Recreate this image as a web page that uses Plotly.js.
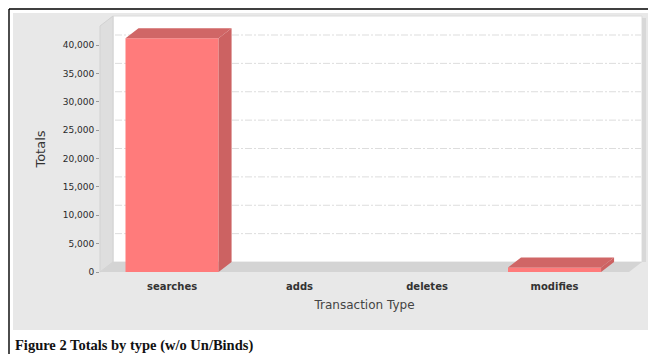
<!DOCTYPE html>
<html>
<head>
<meta charset="utf-8">
<script src="https://cdn.plot.ly/plotly-3.0.1.min.js"></script>
<style>
  html, body { margin: 0; padding: 0; background: #ffffff; }
  #chart { width: 648px; height: 354px; }
</style>
</head>
<body>
<div id="chart"></div>
<script>
// Transaction totals by type (without Un/Binds)
const categories = ['searches', 'adds', 'deletes', 'modifies'];
const totals = [41200, 0, 0, 800];
const yTickVals = [0, 5000, 10000, 15000, 20000, 25000, 30000, 35000, 40000];
const yTickText = ['0', '5,000', '10,000', '15,000', '20,000', '25,000', '30,000', '35,000', '40,000'];
const xTitle = 'Transaction Type';
const yTitle = 'Totals';
const caption = 'Figure 2 Totals by type (w/o Un/Binds)';

// ---- figure geometry (pixels) ----
const W = 648, H = 354;
const M = { l: 100, r: 6, t: 16, b: 82 };
const PW = W - M.l - M.r;   // plotting width
const PH = H - M.t - M.b;   // plotting height
const DEPTH_X = 13, DEPTH_Y = 10;   // 3-D depth offset of the back wall
const Y_MAX = 43350;
const X_RANGE = [-0.565, 3.584];
const BAR_W = 0.73;

// pixel -> paper coordinates
const px = x => (x - M.l) / PW;
const py = y => (H - M.b - y) / PH;

const frontDomX = [0, (PW - DEPTH_X) / PW];
const frontDomY = [0, (PH - DEPTH_Y) / PH];
const backDomX = [DEPTH_X / PW, 1];
const backDomY = [DEPTH_Y / PH, 1];

// depth offset expressed in front-axis data units
const frontPxW = PW - DEPTH_X, frontPxH = PH - DEPTH_Y;
const dX = DEPTH_X * (X_RANGE[1] - X_RANGE[0]) / frontPxW;
const dY = DEPTH_Y * Y_MAX / frontPxH;

const idx = categories.map((_, i) => i);

// side and top faces of each box, built from the totals
const sideX = [], sideY = [], topX = [], topY = [];
totals.forEach((v, i) => {
  if (v <= 0) return;
  const l = i - BAR_W / 2, r = i + BAR_W / 2;
  sideX.push(r, r + dX, r + dX, r, r, null);
  sideY.push(0, dY, v + dY, v, 0, null);
  topX.push(l, l + dX, r + dX, r, l, null);
  topY.push(v, v + dY, v + dY, v, v, null);
});

const traces = [
  {
    type: 'bar', x: idx, y: totals, width: BAR_W,
    xaxis: 'x2', yaxis: 'y2',
    marker: { color: '#ff7b7b', line: { width: 0 } },
    hoverinfo: 'skip'
  },
  {
    type: 'scatter', mode: 'lines', x: sideX, y: sideY,
    xaxis: 'x2', yaxis: 'y2', fill: 'toself', fillcolor: '#cc6262',
    line: { width: 0, color: 'rgba(0,0,0,0)' }, hoverinfo: 'skip'
  },
  {
    type: 'scatter', mode: 'lines', x: topX, y: topY,
    xaxis: 'x2', yaxis: 'y2', fill: 'toself', fillcolor: '#d06666',
    line: { width: 0, color: 'rgba(0,0,0,0)' }, hoverinfo: 'skip'
  }
];

const poly = pts => 'M' + pts.map(p => px(p[0]) + ',' + py(p[1])).join('L') + 'Z';
const fb = { left: M.l, right: M.l + frontPxW, top: M.t + DEPTH_Y, bottom: H - M.b };
const bk = { left: M.l + DEPTH_X, right: W - M.r, top: M.t, bottom: H - M.b - DEPTH_Y };

const shapes = [
  // grey panel
  { type: 'rect', xref: 'paper', yref: 'paper', layer: 'below',
    x0: px(13), x1: px(649), y0: py(13), y1: py(330),
    fillcolor: '#e8e8e8', line: { width: 0 } },
  // back wall
  { type: 'rect', xref: 'paper', yref: 'paper', layer: 'below',
    x0: px(bk.left), x1: px(bk.right), y0: py(bk.top), y1: py(bk.bottom),
    fillcolor: '#ffffff', line: { width: 1, color: '#dcdcdc' } },
  // back wall shadow on the right
  { type: 'rect', xref: 'paper', yref: 'paper', layer: 'below',
    x0: px(bk.right), x1: px(bk.right + 4), y0: py(bk.top + 2), y1: py(bk.bottom),
    fillcolor: '#d8d8d8', line: { width: 0 } },
  // left wall
  { type: 'path', xref: 'paper', yref: 'paper', layer: 'below',
    path: poly([[fb.left, fb.bottom], [fb.left, fb.top], [bk.left, bk.top], [bk.left, bk.bottom]]),
    fillcolor: '#dedede', line: { width: 1, color: '#d2d2d2' } },
  // floor
  { type: 'path', xref: 'paper', yref: 'paper', layer: 'below',
    path: poly([[fb.left, fb.bottom], [fb.right, fb.bottom], [bk.right, bk.bottom], [bk.left, bk.bottom]]),
    fillcolor: '#d4d4d4', line: { width: 0 } },
  // frame lines
  { type: 'line', xref: 'paper', yref: 'paper', layer: 'above',
    x0: px(9), x1: px(9), y0: py(9), y1: py(H + 2), line: { color: '#000', width: 1.4 } },
  { type: 'line', xref: 'paper', yref: 'paper', layer: 'above',
    x0: px(9), x1: px(W + 2), y0: py(9), y1: py(9), line: { color: '#000', width: 1.4 } }
];

// dashed grid on the back wall, placed on the back-wall value axis
yTickVals.filter(v => v > 0).forEach(v => {
  shapes.push({
    type: 'line', xref: 'paper', yref: 'y', layer: 'below',
    x0: px(bk.left + 2), x1: px(bk.right - 1), y0: v, y1: v,
    line: { color: '#dddddd', width: 1, dash: '7px,2px,2px,2px' }
  });
});

const tickFont = { family: 'DejaVu Sans', size: 9, color: '#2a2a2a' };

const layout = {
  width: W, height: H,
  margin: { l: M.l, r: M.r, t: M.t, b: M.b, pad: 0 },
  paper_bgcolor: '#ffffff',
  plot_bgcolor: 'rgba(0,0,0,0)',
  showlegend: false,
  // back wall axes: position the dashed grid
  xaxis: {
    domain: backDomX, range: X_RANGE, anchor: 'y',
    showticklabels: false, ticks: '', showgrid: false, zeroline: false, showline: false
  },
  yaxis: {
    domain: backDomY, range: [0, Y_MAX], anchor: 'x',
    showticklabels: false, ticks: '', showgrid: false, zeroline: false, showline: false
  },
  // front plane axes: carry the boxes and labels
  xaxis2: {
    domain: frontDomX, range: X_RANGE, anchor: 'y2',
    tickvals: idx, ticktext: categories,
    ticks: 'outside', ticklen: 5, tickcolor: 'rgba(0,0,0,0)',
    tickfont: { family: 'DejaVu Sans', size: 10, color: '#333', weight: 'bold' },
    showgrid: false, zeroline: false, showline: false, automargin: false,
    title: { text: xTitle, font: { family: 'DejaVu Sans', size: 12, color: '#444' }, standoff: 9 }
  },
  yaxis2: {
    domain: frontDomY, range: [0, Y_MAX], anchor: 'x2',
    tickvals: yTickVals, ticktext: yTickText,
    ticks: 'outside', ticklen: 3, tickcolor: '#999', tickwidth: 1,
    tickfont: tickFont,
    showgrid: false, zeroline: false, showline: false, automargin: false,
    title: { text: yTitle, font: { family: 'DejaVu Sans', size: 13, color: '#333' }, standoff: 14 }
  },
  shapes: shapes,
  annotations: [{
    xref: 'paper', yref: 'paper', x: px(13), y: py(345),
    xanchor: 'left', yanchor: 'middle', showarrow: false,
    text: caption,
    font: { family: 'Liberation Serif', size: 14.5, color: '#111', weight: 'bold' }
  }]
};

Plotly.newPlot('chart', traces, layout, { staticPlot: true, displayModeBar: false });
</script>
</body>
</html>
